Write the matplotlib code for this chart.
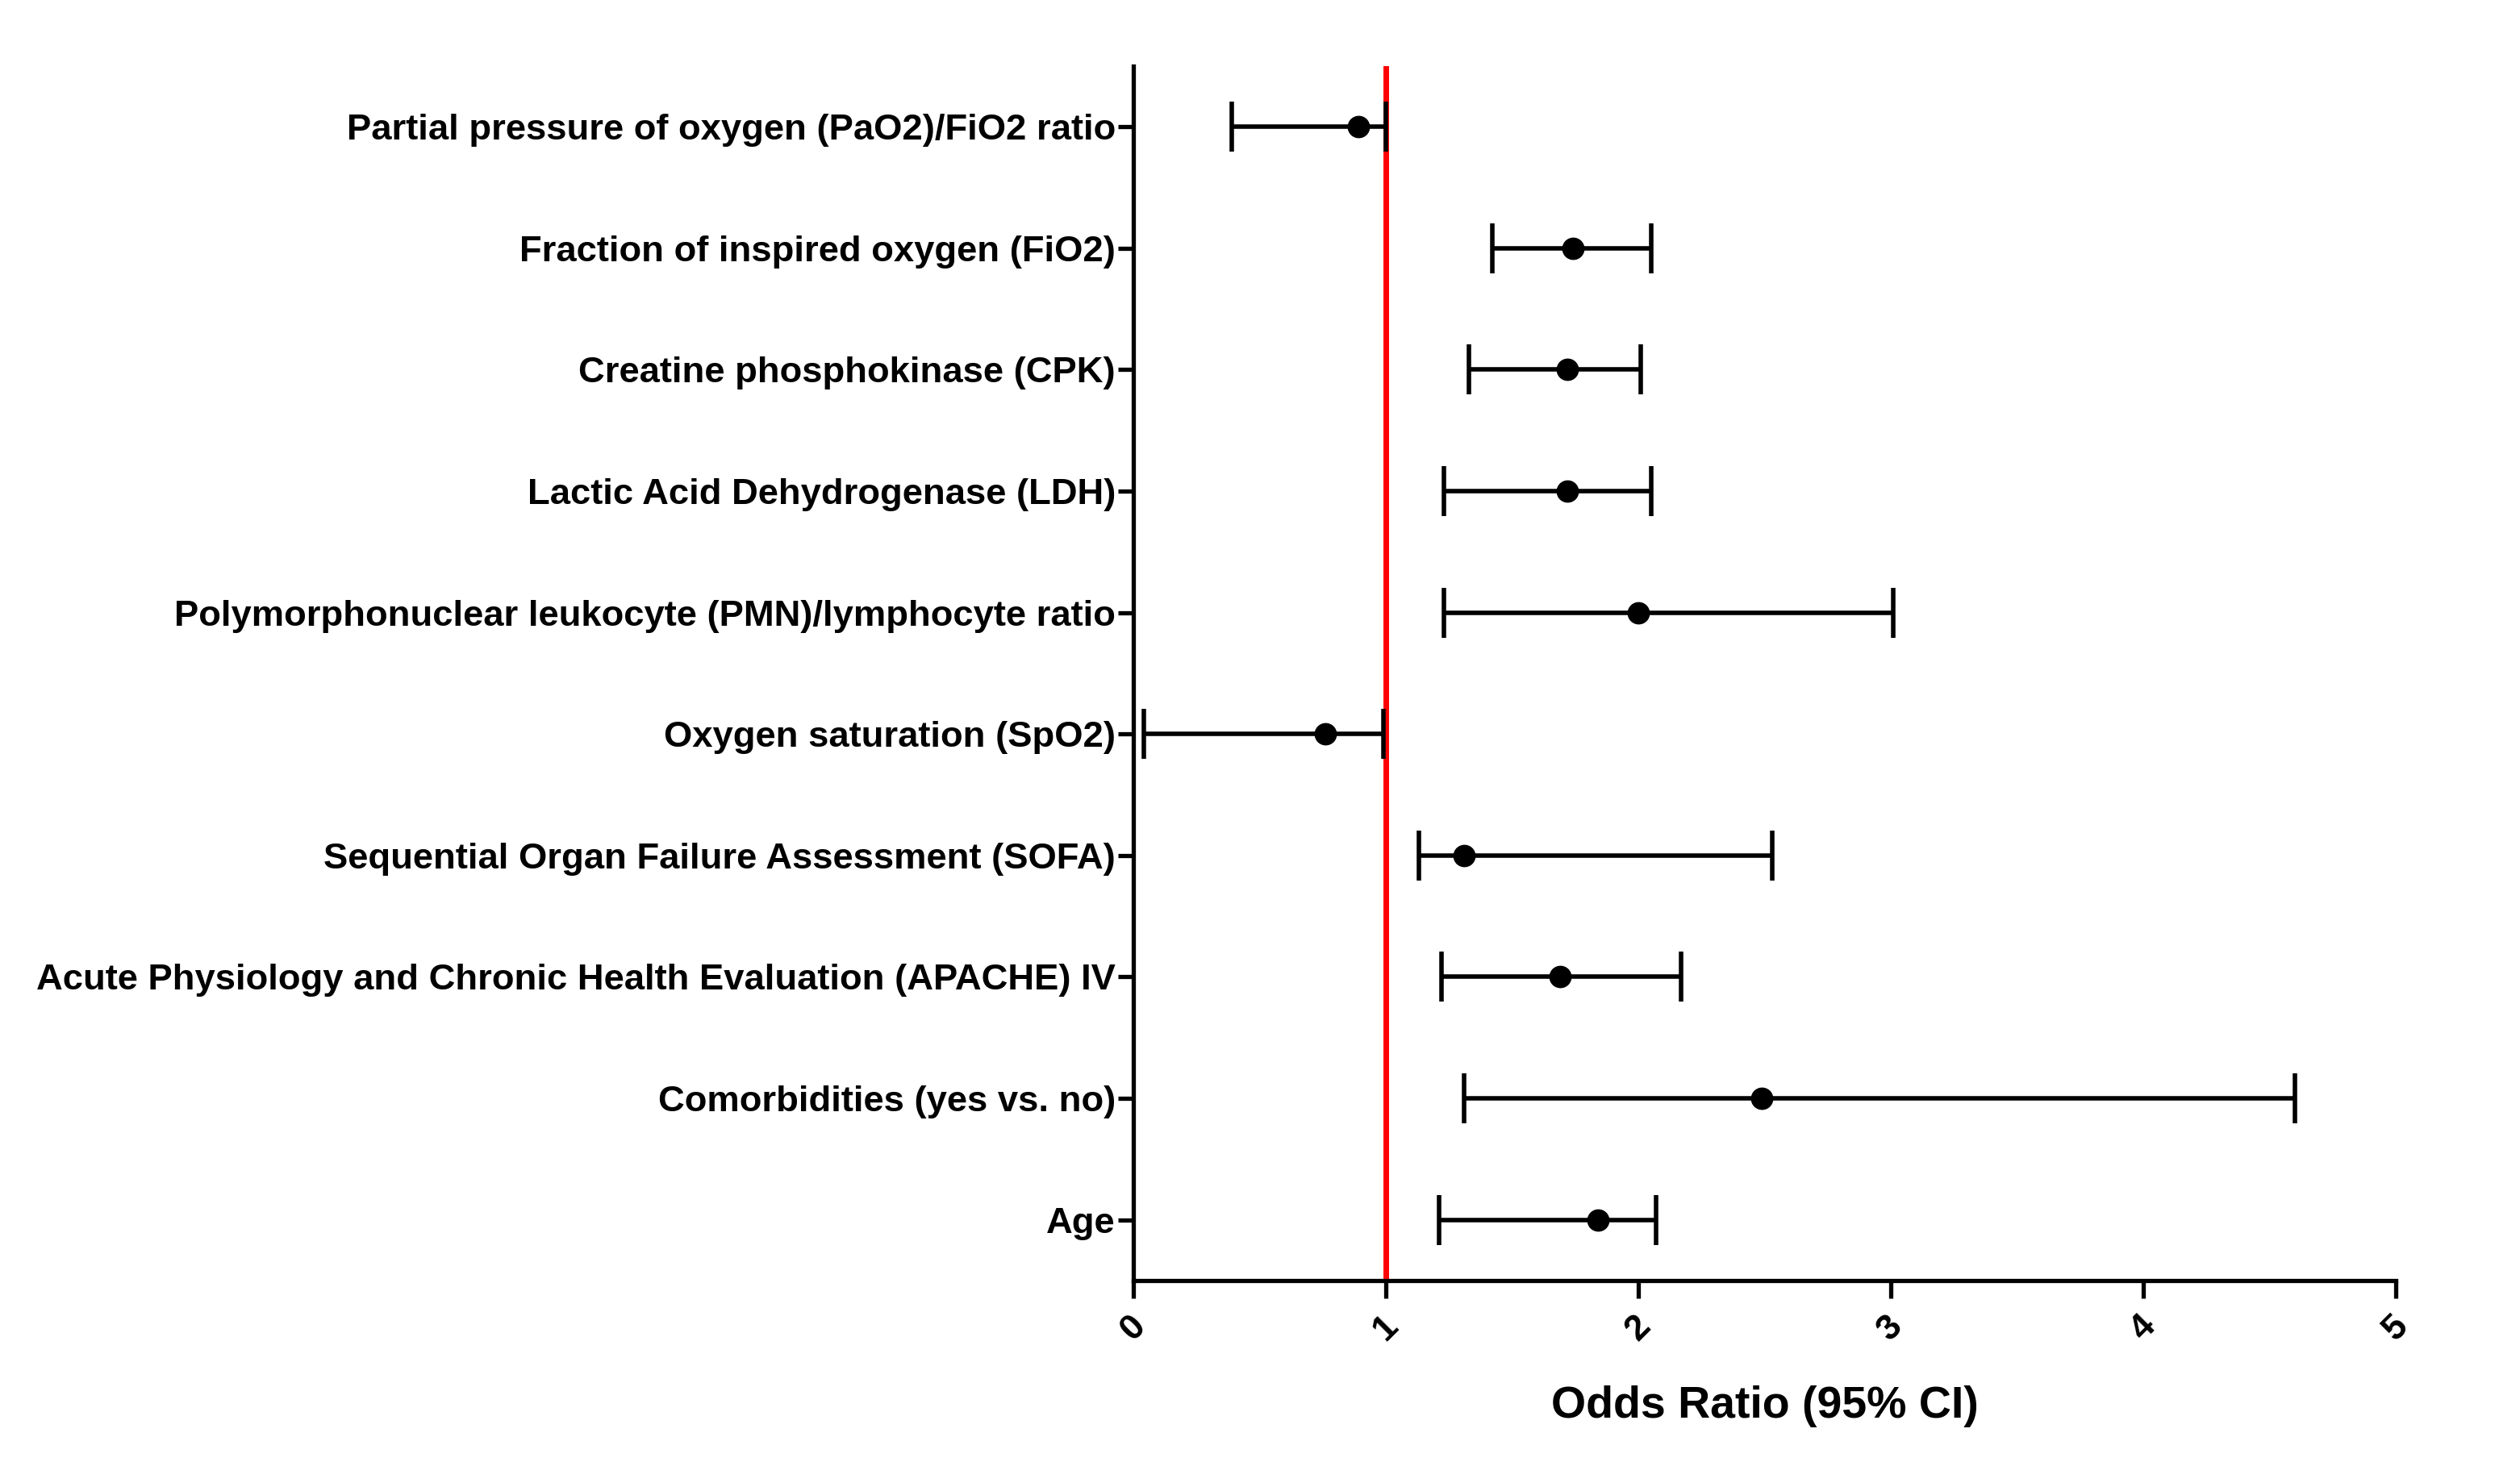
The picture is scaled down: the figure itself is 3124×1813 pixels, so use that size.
import numpy as np
import matplotlib
matplotlib.use("Agg")
from matplotlib import pyplot as plt

plt.rcParams['font.family'] = ['Liberation Sans', 'DejaVu Sans']
plt.rcParams['font.weight'] = 'bold'

# ----------
# Data (top to bottom in the chart)

labels = [
    "Partial pressure of oxygen (PaO2)/FiO2 ratio",
    "Fraction of inspired oxygen (FiO2)",
    "Creatine phosphokinase (CPK)",
    "Lactic Acid Dehydrogenase (LDH)",
    "Polymorphonuclear leukocyte (PMN)/lymphocyte ratio",
    "Oxygen saturation (SpO2)",
    "Sequential Organ Failure Assessment (SOFA)",
    "Acute Physiology and Chronic Health Evaluation (APACHE) IV",
    "Comorbidities (yes vs. no)",
    "Age",
]
odds = [0.89, 1.74, 1.72, 1.72, 2.00, 0.76, 1.31, 1.69, 2.49, 1.84]
ci_low = [0.39, 1.42, 1.33, 1.23, 1.23, 0.04, 1.13, 1.22, 1.31, 1.21]
ci_high = [1.00, 2.05, 2.01, 2.05, 3.01, 0.99, 2.53, 2.17, 4.60, 2.07]
x_ticks = [0, 1, 2, 3, 4, 5]

# ----------
# Plot

fig = plt.figure(figsize=(31.24, 18.13), dpi=100)
ax = fig.add_axes([0.4498, 0.1241, 0.5009, 0.8307])

n = len(labels)
y = np.arange(n)[::-1]
odds = np.array(odds)
err = [odds - np.array(ci_low), np.array(ci_high) - odds]

ax.axvline(1, color='#ff0000', lw=5, zorder=1)
ax.errorbar(odds, y, xerr=err, fmt='o', color='black', ms=19,
            elinewidth=4, capsize=22, capthick=4, zorder=3)

ax.set_xlim(0, 5)
ax.set_ylim(-0.5, n - 0.5)
ax.set_yticks(y)
ax.set_yticklabels(labels, fontsize=32.7, fontweight='bold')
ax.set_xticks(x_ticks)
ax.set_xticklabels([str(t) for t in x_ticks], fontsize=32, fontweight='bold',
                   rotation=45, ha='center')
ax.set_xlabel("Odds Ratio (95% CI)", fontsize=40, fontweight='bold', labelpad=34)

for s in ['top', 'right']:
    ax.spines[s].set_visible(False)
ax.spines['left'].set_linewidth(3.8)
ax.spines['bottom'].set_linewidth(3.8)
ax.tick_params(axis='y', length=14, width=3.8, pad=2)
ax.tick_params(axis='x', length=16, width=3.8, pad=10)

fig.savefig("out.png", dpi=100)
